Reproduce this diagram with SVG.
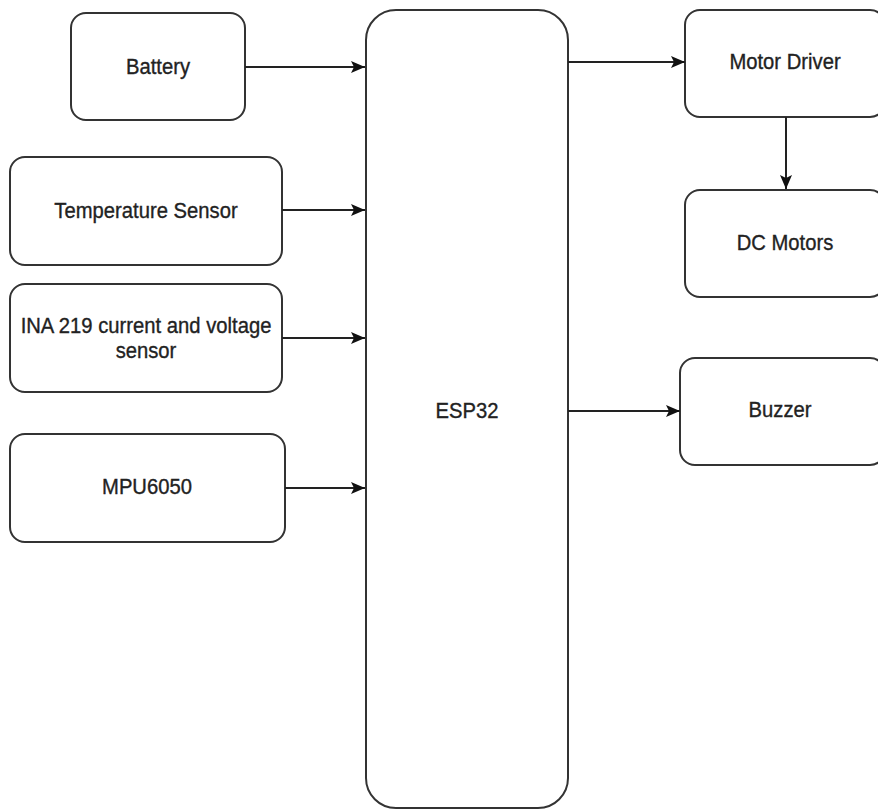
<svg xmlns="http://www.w3.org/2000/svg" width="878" height="811" viewBox="0 0 878 811">
<defs>
<marker id="arr" markerWidth="14" markerHeight="12" refX="14" refY="6" orient="auto" markerUnits="userSpaceOnUse">
<path d="M0,0 L14,6 L0,12 L3,6 Z" fill="#111"/>
</marker>
<style>
.box{fill:#fff;stroke:#333;stroke-width:2}
.lbl{font-family:"Liberation Sans",Arial,sans-serif;font-size:22px;fill:#222;stroke:#222;stroke-width:0.35;text-anchor:middle}
.edge{stroke:#222;stroke-width:2;fill:none}
</style>
</defs>
<rect width="878" height="811" fill="#fff"/>
<g id="battery">
<rect class="box" x="71" y="13" width="174" height="107" rx="15"/>
<text class="lbl" transform="translate(158,74) scale(0.92,1)">Battery</text>
</g>
<g id="temperature-sensor">
<rect class="box" x="10" y="157" width="272" height="108" rx="15"/>
<text class="lbl" transform="translate(146,218) scale(0.92,1)">Temperature Sensor</text>
</g>
<g id="ina219">
<rect class="box" x="10" y="284" width="272" height="108" rx="15"/>
<text class="lbl" transform="translate(146,333) scale(0.92,1)">INA 219 current and voltage</text>
<text class="lbl" transform="translate(146,358) scale(0.92,1)">sensor</text>
</g>
<g id="mpu6050">
<rect class="box" x="10" y="434" width="275" height="108" rx="15"/>
<text class="lbl" transform="translate(147,494) scale(0.92,1)">MPU6050</text>
</g>
<g id="esp32">
<rect class="box" x="366" y="10" width="202" height="798" rx="30"/>
<text class="lbl" transform="translate(467,418) scale(0.92,1)">ESP32</text>
</g>
<g id="motor-driver">
<rect class="box" x="685" y="10" width="200" height="107" rx="15"/>
<text class="lbl" transform="translate(785,69) scale(0.92,1)">Motor Driver</text>
</g>
<g id="dc-motors">
<rect class="box" x="685" y="190" width="200" height="107" rx="15"/>
<text class="lbl" transform="translate(785,250) scale(0.92,1)">DC Motors</text>
</g>
<g id="buzzer">
<rect class="box" x="680" y="358" width="205" height="107" rx="15"/>
<text class="lbl" transform="translate(780,417) scale(0.92,1)">Buzzer</text>
</g>
<g id="connectors">
<line class="edge" x1="245" y1="67" x2="365" y2="67" marker-end="url(#arr)"/>
<line class="edge" x1="282" y1="210" x2="365" y2="210" marker-end="url(#arr)"/>
<line class="edge" x1="282" y1="338" x2="365" y2="338" marker-end="url(#arr)"/>
<line class="edge" x1="285" y1="488" x2="365" y2="488" marker-end="url(#arr)"/>
<line class="edge" x1="568" y1="62" x2="685" y2="62" marker-end="url(#arr)"/>
<line class="edge" x1="786" y1="117" x2="786" y2="189" marker-end="url(#arr)"/>
<line class="edge" x1="568" y1="411" x2="680" y2="411" marker-end="url(#arr)"/>
</g>
</svg>
